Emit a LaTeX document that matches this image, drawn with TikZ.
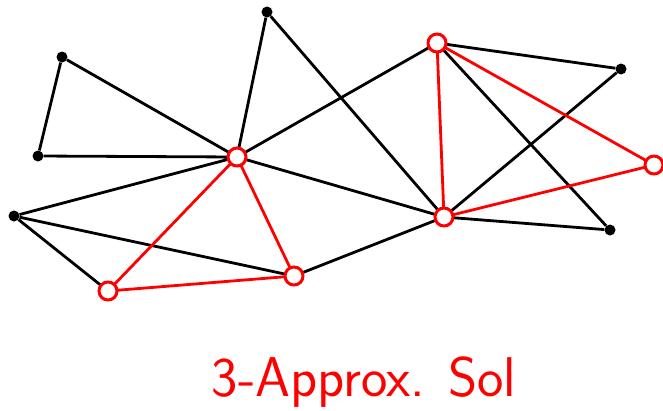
\documentclass[tikz,border=0pt]{standalone}
\begin{document}
\begin{tikzpicture}[x=1pt,y=-1pt,
  dot/.style={circle,fill=black,inner sep=0pt,minimum size=11pt},
  pick/.style={circle,draw=red,fill=white,line width=3pt,inner sep=0pt,minimum size=18pt},
  edge/.style={line width=2.8pt,black},
  sel/.style={line width=2.8pt,red}]
\useasboundingbox (0,0) rectangle (663,410);
% vertices
\node[dot] (a) at (267,12) {};
\node[dot] (b) at (62,57) {};
\node[dot] (c) at (38,156) {};
\node[dot] (e) at (14,216) {};
\node[dot] (i) at (621,69) {};
\node[dot] (l) at (610,230) {};
\coordinate (d) at (237,157);
\coordinate (f) at (108,291);
\coordinate (g) at (294,276);
\coordinate (h) at (437,43);
\coordinate (j) at (654,165);
\coordinate (k) at (444,217);
% graph edges
\draw[edge] (a) -- (d) (a) -- (k) (b) -- (c) (b) -- (d) (c) -- (d)
  (d) -- (e) (d) -- (h) (d) -- (k) (e) -- (f) (e) -- (g) (g) -- (k)
  (h) -- (i) (h) -- (l) (i) -- (k) (k) -- (l);
% approximate solution edges
\draw[sel] (d) -- (f) (d) -- (g) (f) -- (g) (h) -- (k) (h) -- (j) (k) -- (j);
% chosen vertices
\foreach \p in {d,f,g,h,j,k} \node[pick] at (\p) {};
\node[red,font=\fontsize{56}{64}\selectfont\sffamily] (t) at (364,382) {3-Approx. Sol};
\end{tikzpicture}
\end{document}
